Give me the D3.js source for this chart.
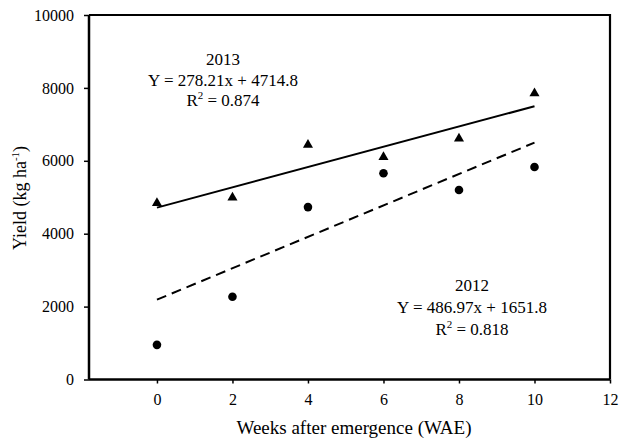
<!DOCTYPE html>
<html>
<head>
<meta charset="utf-8">
<script src="https://cdn.jsdelivr.net/npm/d3@7"></script>
<style>
  body { margin: 0; background: #fff; }
  svg text { font-family: "Liberation Serif", "Times New Roman", serif; fill: #000; }
</style>
</head>
<body>
<div id="chart"></div>
<script>
// data
const weeks = [0, 2, 4, 6, 8, 10];
const yield2013 = [4840, 4990, 6440, 6100, 6610, 7850];
const yield2012 = [950, 2270, 4730, 5660, 5200, 5830];
// fitted line end points (weeks 0 and 10) as drawn in the picture
const trend2013 = [4715, 7497];
const trend2012 = [2190, 6500];
const xTicks = [0, 2, 4, 6, 8, 10, 12];
const yTicks = [0, 2000, 4000, 6000, 8000, 10000];

const W = 620, H = 439;
const svg = d3.select("#chart").append("svg").attr("width", W).attr("height", H);

const mLeft = 89, mRight = 610, mTop = 15, mBottom = 379.5;

const x = d3.scaleLinear().domain([-1.8, 12]).range([mLeft, mRight]);
const y = d3.scaleLinear().domain([0, 10000]).range([mBottom, mTop]);

// frame top & right
svg.append("path")
  .attr("d", `M${mLeft},${mTop}H${mRight}V${mBottom}`)
  .attr("fill", "none").attr("stroke", "#000").attr("stroke-width", 2.2);

// y axis
const yAxis = svg.append("g").attr("transform", `translate(${mLeft},0)`)
  .call(d3.axisLeft(y).tickValues(yTicks).tickSize(5).tickPadding(10).tickFormat(d3.format("d")));
yAxis.attr("font-family", null);
yAxis.select(".domain").attr("stroke-width", 2.5).attr("d", `M0,${mTop}V${mBottom}`);
yAxis.selectAll(".tick line").attr("stroke-width", 1.5);
yAxis.selectAll("text").attr("font-size", 16);

// x axis
const xAxis = svg.append("g").attr("transform", `translate(0,${mBottom})`)
  .call(d3.axisBottom(x).tickValues(xTicks).tickSize(4).tickPadding(10));
xAxis.attr("font-family", null);
xAxis.select(".domain").attr("stroke-width", 2.5).attr("d", `M${mLeft},0H${mRight}`);
xAxis.selectAll(".tick line").attr("stroke-width", 1.5);
xAxis.selectAll("text").attr("font-size", 16);

// trend lines
const line = d3.line().x(d => x(d[0])).y(d => y(d[1]));
svg.append("path")
  .datum([[weeks[0], trend2013[0]], [weeks[weeks.length - 1], trend2013[1]]])
  .attr("d", line).attr("fill", "none").attr("stroke", "#000").attr("stroke-width", 2);
svg.append("path")
  .datum([[weeks[0], trend2012[0]], [weeks[weeks.length - 1], trend2012[1]]])
  .attr("d", line).attr("fill", "none").attr("stroke", "#000").attr("stroke-width", 2)
  .attr("stroke-dasharray", "10,6");

// markers
const tri = d3.symbol().type(d3.symbolTriangle).size(44);
svg.selectAll(".t2013").data(weeks).enter().append("path")
  .attr("class", "t2013")
  .attr("transform", (d, i) => `translate(${x(d)},${y(yield2013[i])})`)
  .attr("d", tri).attr("fill", "#000");
svg.selectAll(".c2012").data(weeks).enter().append("circle")
  .attr("class", "c2012")
  .attr("cx", d => x(d)).attr("cy", (d, i) => y(yield2012[i]))
  .attr("r", 4.3).attr("fill", "#000");

// annotations
function annot(cx, ys, year, eq, r2) {
  svg.append("text").attr("x", cx).attr("y", ys[0]).attr("text-anchor", "middle")
    .attr("font-size", 17).text(year);
  svg.append("text").attr("x", cx).attr("y", ys[1]).attr("text-anchor", "middle")
    .attr("font-size", 17).text(eq);
  const t = svg.append("text").attr("x", cx).attr("y", ys[2]).attr("text-anchor", "middle")
    .attr("font-size", 17);
  t.append("tspan").text("R");
  t.append("tspan").attr("font-size", 11).attr("dy", -7).text("2");
  t.append("tspan").attr("dy", 7).text(" = " + r2);
}
annot(223, [65, 86, 106], "2013", "Y = 278.21x + 4714.8", "0.874");
annot(472, [291, 313, 335], "2012", "Y = 486.97x + 1651.8", "0.818");

// axis titles
svg.append("text").attr("x", 354).attr("y", 434).attr("text-anchor", "middle")
  .attr("font-size", 19).text("Weeks after emergence (WAE)");
const yt = svg.append("text").attr("transform", "translate(26,198) rotate(-90)")
  .attr("text-anchor", "middle").attr("font-size", 18);
yt.append("tspan").text("Yield (kg ha");
yt.append("tspan").attr("font-size", 11).attr("dy", -7).text("-1");
yt.append("tspan").attr("dy", 7).text(")");
</script>
</body>
</html>
